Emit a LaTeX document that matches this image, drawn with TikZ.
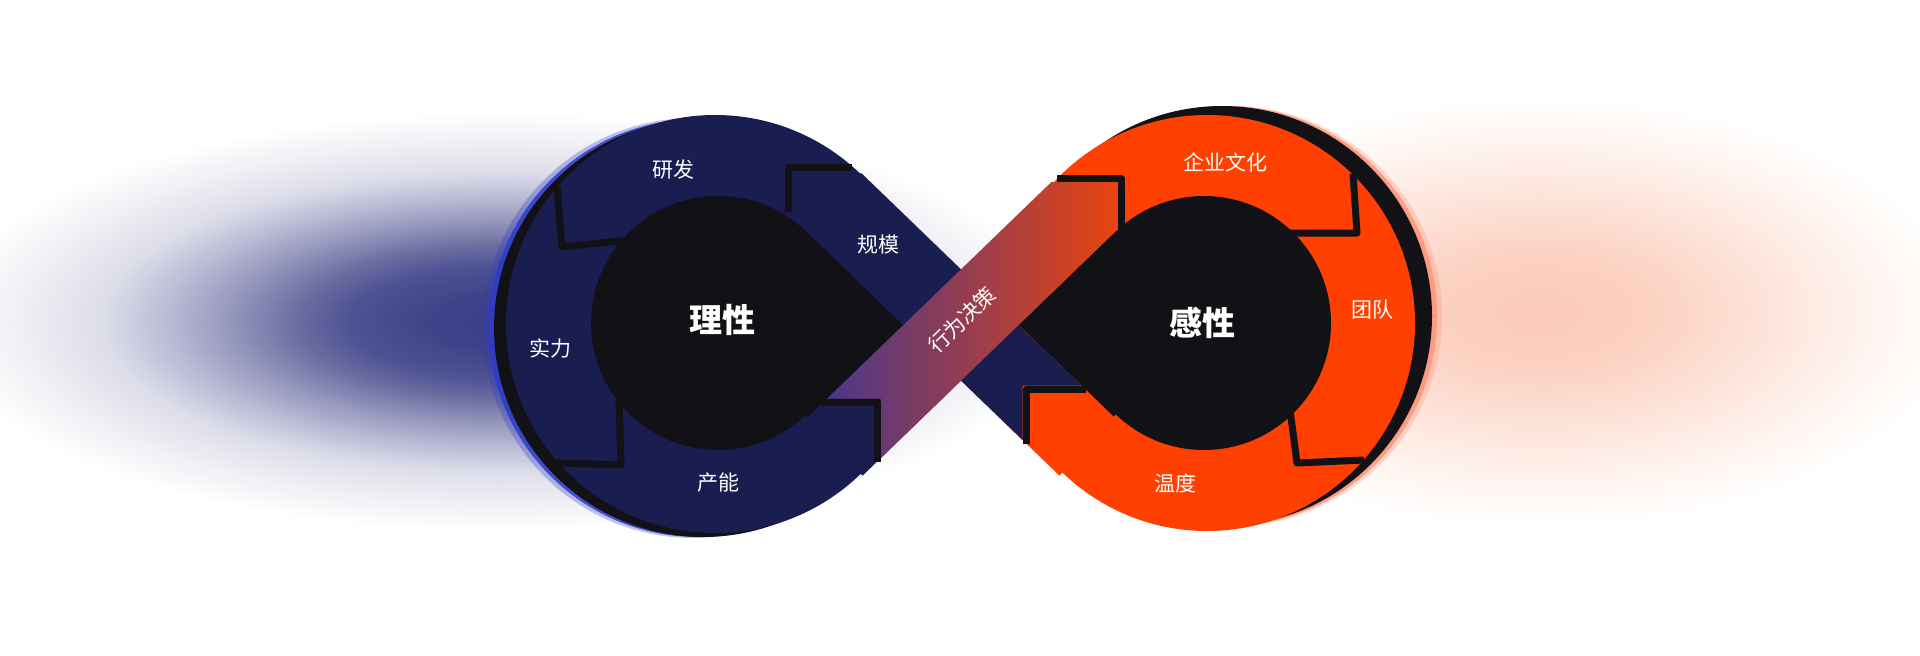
\documentclass[tikz,border=0pt]{standalone}
\usepackage{fontspec}
\newfontfamily\cjk{Noto Sans CJK SC}
\definecolor{navy}{HTML}{191D50}
\definecolor{orng}{HTML}{FF4000}
\definecolor{blk}{HTML}{121116}
\definecolor{gradA}{HTML}{4B378A}
\definecolor{gradB}{HTML}{E8440F}
\definecolor{rimL}{HTML}{2E3BC9}
\definecolor{rimR}{HTML}{FF9478}
\definecolor{glA}{HTML}{3B3F86}
\definecolor{glB}{HTML}{3E4288}
\definecolor{glC}{HTML}{4F5394}
\definecolor{glD}{HTML}{6A6CA0}
\definecolor{glE}{HTML}{9496BD}
\definecolor{glF}{HTML}{B8B9D4}
\definecolor{glG}{HTML}{DCDDE9}
\definecolor{glH}{HTML}{F3F3F7}
\definecolor{grA}{HTML}{FBC9B8}
\definecolor{grB}{HTML}{FCD3C4}
\definecolor{grC}{HTML}{FDE1D6}
\definecolor{grD}{HTML}{FEEEE8}
\definecolor{grE}{HTML}{FFF7F4}
\pgfdeclareradialshading{glowL}{\pgfpoint{0bp}{0bp}}{color(0bp)=(glA); color(3bp)=(glB); color(6.75bp)=(glC); color(9bp)=(glD); color(12bp)=(glE); color(14.75bp)=(glF); color(17.75bp)=(glG); color(22.25bp)=(glH); color(25bp)=(white); color(50bp)=(white)}
\pgfdeclareradialshading{glowR}{\pgfpoint{0bp}{0bp}}{color(0bp)=(grA); color(7.5bp)=(grB); color(12.5bp)=(grC); color(17.5bp)=(grD); color(21.25bp)=(grE); color(25bp)=(white); color(50bp)=(white)}
\tikzset{
  sepline/.style={draw=blk, line width=7pt, line join=round},
  lbl/.style={text=white, font=\cjk\fontsize{21}{24}\selectfont, inner sep=0pt},
  core/.style={text=white, font=\cjk\bfseries\fontsize{33}{38}\selectfont, inner sep=0pt}
}
\begin{document}
\begin{tikzpicture}[x=1pt,y=-1pt]
\useasboundingbox (0,0) rectangle (1920,656);
\fill[white] (0,0) rectangle (1920,656);
% background glows
\shade[shading=glowL] (500,322) ellipse [x radius=560, y radius=210];
\shade[shading=glowR] (1540,312) ellipse [x radius=420, y radius=215];
% rim glows
\fill[rimL, opacity=0.3] (693,328) circle (210);
\fill[rimL, opacity=0.85] (698,328) circle (209);
\fill[rimR, opacity=0.3] (1232,316) circle (210);
\fill[rimR, opacity=0.85] (1227,316) circle (210);
% black disks
\fill[blk] (703,328) circle (209);
\fill[blk] (1222,316) circle (210);
% lobes
\fill[navy] (715,324) circle (209);
\fill[orng] (1207,323) circle (208);
% inner teardrops
\fill[blk] (718,323) circle (127);
\fill[blk] (806.5,231.4) -- (903.4,325) -- (808.4,416.7) -- (718,323) -- cycle;
\fill[blk] (1204,323) circle (127);
\fill[blk] (1115.5,231.4) -- (1018.6,325) -- (1113.6,416.7) -- (1204,323) -- cycle;
% lobe extensions along the strips
\fill[navy] (806.9,418.2) -- (933.2,296.2) -- (988.8,353.8) -- (862.5,475.7) -- cycle;
\fill[orng] (933.2,353.8) -- (988.8,296.2) -- (1115.1,418.2) -- (1059.5,475.7) -- cycle;
% navy strip
\fill[navy] (861,172.8) -- (1081.3,385.5) -- (1022.5,385.5) -- (1022.5,440) -- (805.4,230.3) -- cycle;
% gradient strip
\shade[left color=gradA, right color=gradB] (827.3,398.5) -- (880.5,398.5) -- (880.5,458.4) -- (1117.5,229.5) -- (1117.5,182) -- (1051.4,182) -- cycle;
% separators
\draw[sepline] (788,212) -- (788,167) -- (852,167);
\draw[sepline] (557,187) -- (562,247) -- (628,240);
\draw[sepline] (619,400) -- (621,465) -- (557,463);
\draw[sepline] (822,402) -- (877,402) -- (877,462);
\draw[sepline] (1086,389) -- (1026,389) -- (1026,444);
\draw[sepline] (1353,174) -- (1357,233) -- (1290,233);
\draw[sepline] (1290,410) -- (1297,463) -- (1364,460);
\draw[sepline] (1057,178.5) -- (1121,178.5) -- (1121,230);
% labels
\node[core] (lx) at (722,320) {理性};
\node[core] (gx) at (1202,323) {感性};
\node[lbl] (yf) at (673,170) {研发};
\node[lbl] (sl) at (550,348) {实力};
\node[lbl] (cn) at (718,483) {产能};
\node[lbl] (gm) at (878,245) {规模};
\node[lbl] (qy) at (1225,162) {企业文化};
\node[lbl] (td) at (1372,310) {团队};
\node[lbl] (wd) at (1175,483) {温度};
\node[lbl, rotate=44] (xw) at (962,320) {行为决策};
\end{tikzpicture}
\end{document}
